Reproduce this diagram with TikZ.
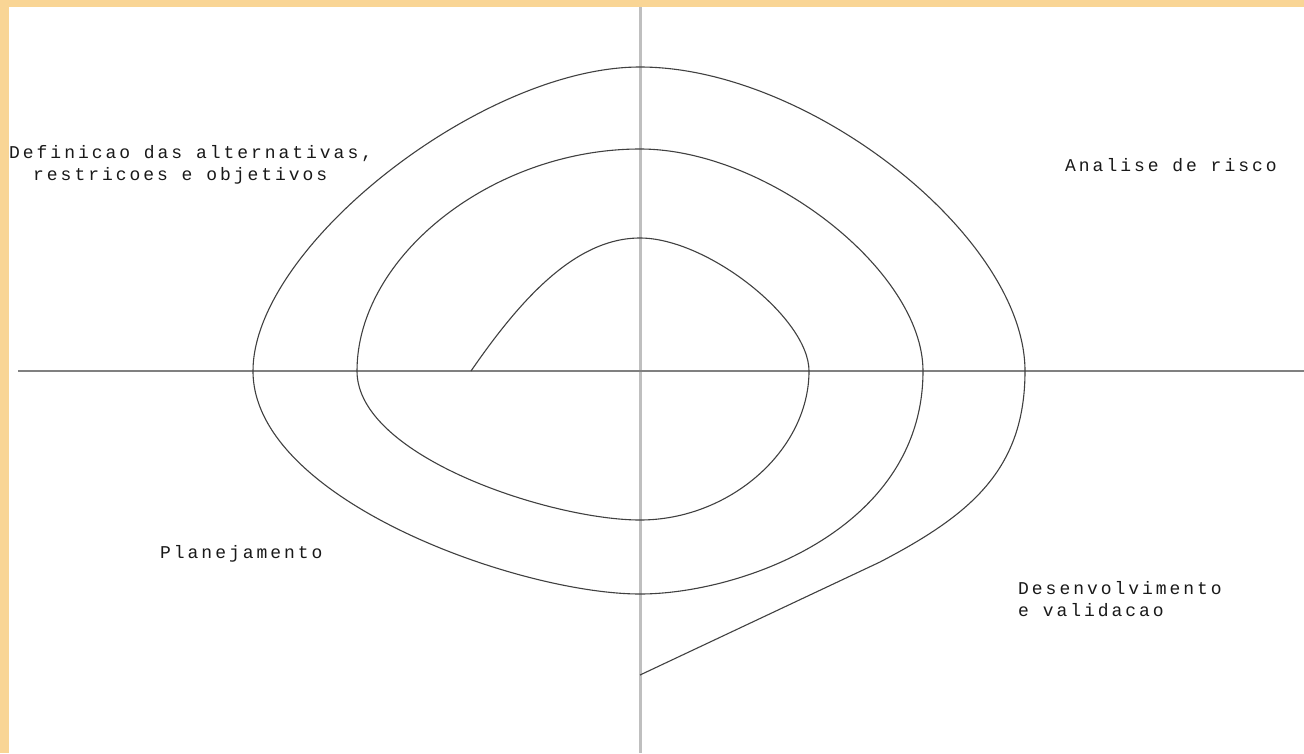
\documentclass[tikz,border=0pt]{standalone}
\usepackage{fontspec}
\newfontfamily\phasefont{Liberation Mono}[LetterSpace=16.5]
\usepackage{xcolor}
\definecolor{framecol}{RGB}{249,213,149}

\begin{document}
\begin{tikzpicture}[x=1pt,y=-1pt,
    vaxis/.style={line width=3pt,black!25},
    haxis/.style={line width=1.3pt,black!50},
    spiral/.style={line width=1.1pt,black!75},
    phase/.style={font=\phasefont\fontsize{18}{22}\selectfont,text=black!90,inner sep=0pt,align=left}]
    \useasboundingbox (0,0) rectangle (1304,753);
    \fill[white] (0,0) rectangle (1304,753);
    \fill[framecol] (0,0) rectangle (1304,7);
    \fill[framecol] (0,0) rectangle (9,753);
    % axes
    \draw[vaxis] (640,7) -- (640,753);
    \draw[haxis] (18,371) -- (1304,371);
    % spiral, from the inside out
    \draw[spiral] (471,371) .. controls (520,300) and (575,238) .. (640,238)
        .. controls (707,238) and (809,318) .. (809,371)
        .. controls (809,450) and (730,520) .. (640,520)
        .. controls (552,520) and (357,457) .. (357,371)
        .. controls (357,256) and (493,149) .. (640,149)
        .. controls (767,149) and (923,271) .. (923,371)
        .. controls (923,530) and (740,594) .. (640,594)
        .. controls (520,594) and (253,500) .. (253,371)
        .. controls (253,247) and (482,67) .. (640,67)
        .. controls (809,67) and (1025,237) .. (1025,371)
        .. controls (1025,470) and (970,515) .. (880,562) -- (640,675);
    % quadrant labels
    \node[phase,anchor=base west] (alternativas) at (9,180)
        {Definicao das alternativas,\\\hspace*{24pt}restricoes e objetivos};
    \node[phase,anchor=base west] (risco) at (1065,171) {Analise de risco};
    \node[phase,anchor=base west] (planejamento) at (160,558) {Planejamento};
    \node[phase,anchor=base west] (desenvolvimento) at (1018,616)
        {Desenvolvimento\\e validacao};
\end{tikzpicture}
\end{document}
